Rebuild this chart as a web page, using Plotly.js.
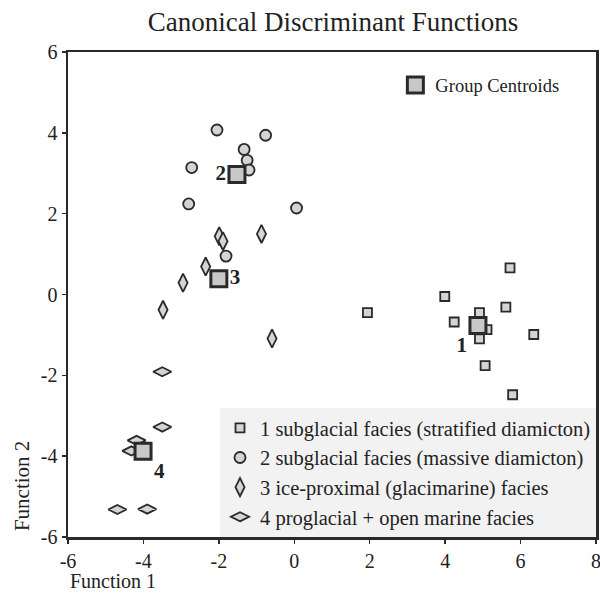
<!DOCTYPE html>
<html><head><meta charset="utf-8">
<script src="https://cdn.plot.ly/plotly-3.0.1.min.js"></script>
<style>body{margin:0;background:#fff}#c{width:600px;height:595px}</style>
</head><body><div id="c"></div>
<script>
// Group 1: subglacial facies (stratified diamicton)
const g1x = [5.72, 3.99, 5.61, 4.24, 4.91, 5.11, 4.91, 6.35, 5.06, 5.79, 1.94];
const g1y = [0.66, -0.05, -0.31, -0.68, -0.45, -0.87, -1.10, -0.99, -1.76, -2.48, -0.45];
// Group 2: subglacial facies (massive diamicton)
const g2x = [-2.05, -0.76, -1.33, -1.25, -1.20, -1.49, -2.72, -2.80, 0.06, -1.81];
const g2y = [4.07, 3.94, 3.59, 3.32, 3.08, 2.96, 3.14, 2.24, 2.14, 0.95];
// Group 3: ice-proximal (glacimarine) facies
const g3x = [-1.99, -1.89, -0.87, -2.35, -2.95, -3.48, -0.59];
const g3y = [1.44, 1.32, 1.50, 0.69, 0.29, -0.38, -1.09];
// Group 4: proglacial + open marine facies
const g4x = [-3.50, -3.50, -4.18, -4.32, -4.69, -3.90];
const g4y = [-1.91, -3.28, -3.61, -3.87, -5.32, -5.31];
// Group centroids
const cenLabels = ['1', '2', '3', '4'];
const cenX = [4.87, -1.52, -2.00, -4.01];
const cenY = [-0.77, 2.97, 0.39, -3.88];
const names = ['1 subglacial facies (stratified diamicton)', '2 subglacial facies (massive diamicton)',
  '3 ice-proximal (glacimarine) facies', '4 proglacial + open marine facies'];
const xTicks = [-6, -4, -2, 0, 2, 4, 6, 8];
const xTickText = ['-6', '-4', '-2', '0', '2', '4', '6', '8'];
const yTicks = [-6, -4, -2, 0, 2, 4, 6];
const yTickText = ['-6', '-4', '-2', '0', '2', '4', '6'];

const serif = '"Liberation Serif", "Times New Roman", serif';
const fill = '#d4d4d4', edge = '#2a2a2a';
const mk = (sym, size) => ({symbol: sym, size: size, color: fill, line: {color: edge, width: 1.8}});

const traces = [
  {x: g1x, y: g1y, mode: 'markers', name: names[0], marker: mk('square', 9)},
  {x: g2x, y: g2y, mode: 'markers', name: names[1], marker: mk('circle', 11)},
  {x: g3x, y: g3y, mode: 'markers', name: names[2], marker: mk('diamond-tall', 13)},
  {x: g4x, y: g4y, mode: 'markers', name: names[3], marker: mk('diamond-wide', 13)},
  {x: cenX, y: cenY, mode: 'markers+text', name: 'Group Centroids', legend: 'legend2',
   text: cenLabels, textposition: ['bottom left', 'middle left', 'middle right', 'bottom right'],
   textfont: {family: serif, size: 21, color: '#222', weight: 'bold'},
   marker: {symbol: 'square', size: 16, color: '#c8c8c8', line: {color: edge, width: 3}}}
];

const axisCommon = {
  showgrid: false, zeroline: false, showline: true, mirror: true,
  linecolor: '#2a2a2a', linewidth: 2.5, ticks: 'outside', ticklen: 4, tickwidth: 1.5,
  tickcolor: '#2a2a2a', tickfont: {family: serif, size: 20, color: '#222'},
  ticklabeloverflow: 'allow'
};

const layout = {
  width: 600, height: 595,
  margin: {l: 68, r: 4, t: 52, b: 58},
  paper_bgcolor: '#fff', plot_bgcolor: '#fff',
  title: {text: 'Canonical Discriminant Functions', x: 0.555, xanchor: 'center', y: 0.963, yanchor: 'middle',
    font: {family: serif, size: 27, color: '#222'}},
  xaxis: Object.assign({}, axisCommon, {range: [-6, 8], tickvals: xTicks, ticktext: xTickText}),
  yaxis: Object.assign({}, axisCommon, {range: [-6, 6], tickvals: yTicks, ticktext: yTickText}),
  showlegend: true,
  legend: {x: 1, y: 0, xanchor: 'right', yanchor: 'bottom', bgcolor: '#f2f2f2',
    font: {family: serif, size: 20.5, color: '#222'}, itemsizing: 'trace', tracegroupgap: 0,
    borderwidth: 0, itemwidth: 30},
  legend2: {x: 0.62, y: 0.97, xanchor: 'left', yanchor: 'top', bgcolor: 'rgba(0,0,0,0)',
    font: {family: serif, size: 18.5, color: '#222'}, itemsizing: 'trace', itemwidth: 30},
  annotations: [
    {text: 'Function 1', xref: 'paper', yref: 'paper', x: 0, y: 0, xanchor: 'left', yanchor: 'top',
     yshift: -31, showarrow: false, font: {family: serif, size: 20, color: '#222'}},
    {text: 'Function 2', xref: 'paper', yref: 'paper', x: 0, y: 0.105, xanchor: 'center', yanchor: 'middle',
     xshift: -46, textangle: -90, showarrow: false, font: {family: serif, size: 21, color: '#222'}}
  ]
};

Plotly.newPlot('c', traces, layout, {displayModeBar: false, staticPlot: true});
</script></body></html>
